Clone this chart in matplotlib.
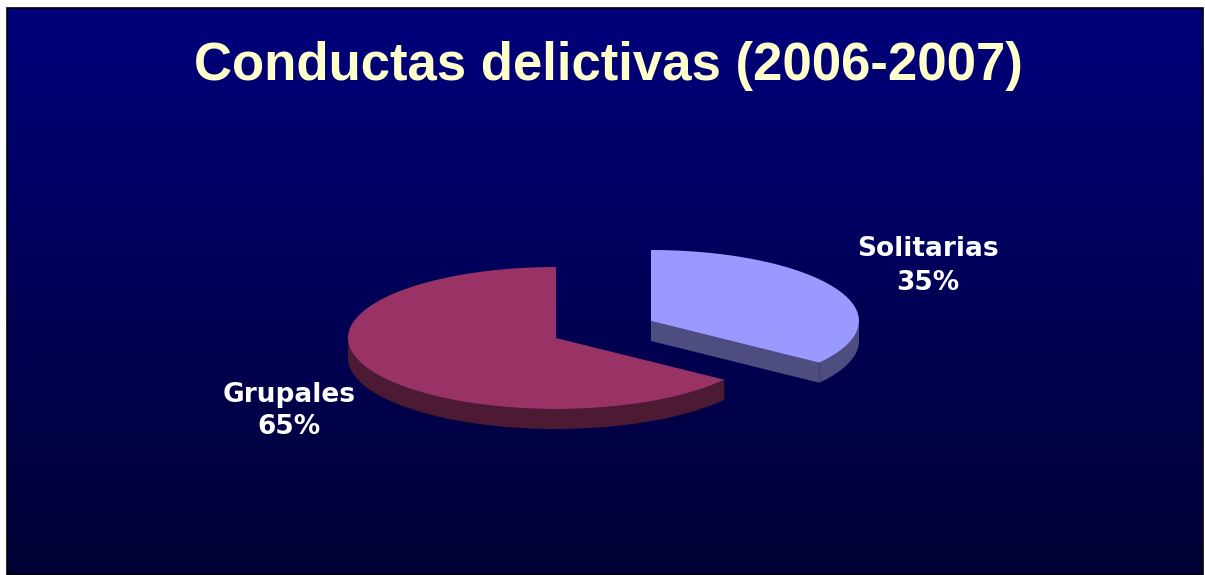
import numpy as np
import matplotlib
matplotlib.use('Agg')
import matplotlib.pyplot as plt
from matplotlib.patches import Polygon, Rectangle

# data
labels = ['Solitarias', 'Grupales']
values = [35, 65]
top_colors = ['#9999FF', '#993366']
side_colors = ['#4D4D80', '#4C1A33']

title = 'Conductas delictivas (2006-2007)'

# layout (pixel coords, y down)
W, H = 1205, 575
centers = [(651, 321), (556, 338)]
rx, ry, depth = 208, 71, 20
label_pos = [(928, 256, 290), (289, 402, 434)]

fig = plt.figure(figsize=(W / 100, H / 100), dpi=100)
fig.patch.set_facecolor('white')
ax = fig.add_axes([0, 0, 1, 1])
ax.set_xlim(0, W)
ax.set_ylim(H, 0)
ax.axis('off')

# background gradient
grad = np.linspace(0, 1, 256).reshape(-1, 1)
top_c = np.array([0, 0, 124]) / 255
bot_c = np.array([0, 0, 52]) / 255
img = top_c[None, None, :] * (1 - grad[:, :, None]) + bot_c[None, None, :] * grad[:, :, None]
img = np.repeat(img, 2, axis=1)
ax.imshow(img, extent=[7, 1203, 575, 8], aspect='auto', zorder=0)
ax.add_patch(Rectangle((7, 8), 1196, 567, fill=False, ec='black', lw=1.2, zorder=1))


def pt(c, t, dz=0):
    return (c[0] + rx * np.cos(t), c[1] - ry * np.sin(t) + dz)


total = sum(values)
start = np.pi / 2
for i, v in enumerate(values):
    end = start - 2 * np.pi * v / total
    c = centers[i]
    ts = np.linspace(end, start, 200)
    # outer rim (front half only)
    vis = ts[np.sin(ts) < 0]
    if len(vis) > 1:
        topp = [pt(c, t) for t in vis]
        botp = [pt(c, t, depth) for t in vis[::-1]]
        ax.add_patch(Polygon(topp + botp, closed=True, fc=side_colors[i], ec='none', zorder=2))
    # radial cut faces
    for a, nrm in [(start, start + np.pi / 2), (end, end - np.pi / 2)]:
        if np.sin(nrm) < -1e-6:
            p = pt(c, a)
            quad = [c, p, (p[0], p[1] + depth), (c[0], c[1] + depth)]
            ax.add_patch(Polygon(quad, closed=True, fc=side_colors[i], ec='none', zorder=2))
    # top face
    face = [c] + [pt(c, t) for t in ts]
    ax.add_patch(Polygon(face, closed=True, fc=top_colors[i], ec='none', zorder=3))
    start = end

ax.text(608, 80, title, ha='center', va='baseline', color='#FFFFCC',
        fontsize=38, fontweight='bold', family='Liberation Sans', zorder=5)

for lab, v, (x, y1, y2) in zip(labels, values, label_pos):
    ax.text(x, y1, lab, ha='center', va='baseline', color='white',
            fontsize=19, fontweight='bold', family='DejaVu Sans', zorder=5)
    ax.text(x, y2, f'{v}%', ha='center', va='baseline', color='white',
            fontsize=19, fontweight='bold', family='DejaVu Sans', zorder=5)

fig.savefig('out.png', dpi=100, facecolor=fig.get_facecolor())
